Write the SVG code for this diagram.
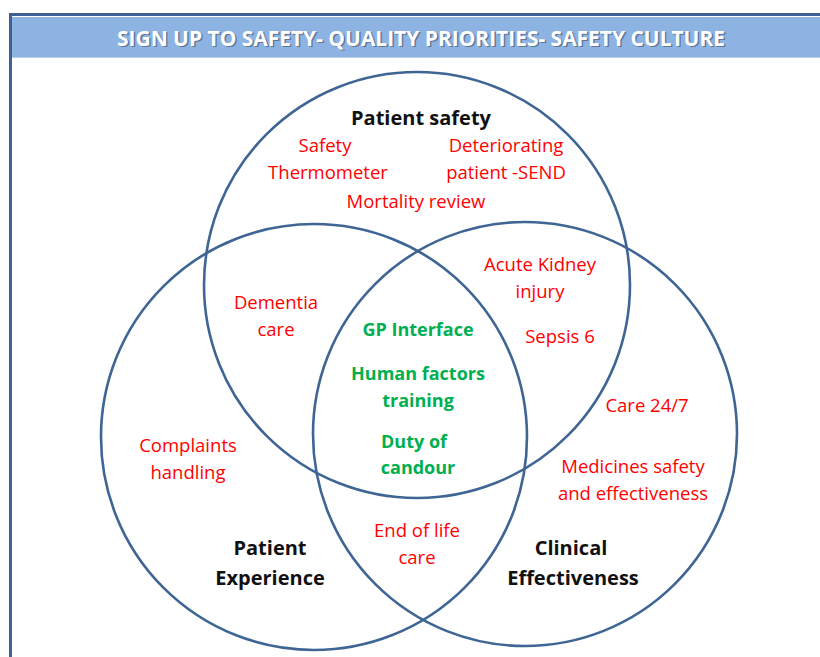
<svg xmlns="http://www.w3.org/2000/svg" width="820" height="657" viewBox="0 0 820 657">
  <style>
    .ring { fill: none; stroke: #3f6594; stroke-width: 2.6; }
    .red { fill: #ff0000; font-family: "Open Sans", "Liberation Sans", sans-serif; font-size: 18.5px; text-anchor: middle; }
    .green { fill: #00b050; font-family: "Open Sans", "Liberation Sans", sans-serif; font-size: 18px; font-weight: bold; text-anchor: middle; }
    .title { fill: #111111; font-family: "Open Sans", "Liberation Sans", sans-serif; font-size: 20px; font-weight: bold; text-anchor: middle; }
    .head { font-family: "Open Sans", "Liberation Sans", sans-serif; font-size: 21px; font-weight: bold; text-anchor: middle; }
  </style>

  <rect width="820" height="657" fill="#ffffff"/>

  <!-- frame and banner -->
  <g id="frame">
    <rect x="12" y="17" width="808" height="40" fill="#8db3e2"/>
    <line x1="12" y1="57.5" x2="820" y2="57.5" stroke="#b9d0ec" stroke-width="1"/>
    <line x1="9" y1="14.5" x2="820" y2="14.5" stroke="#3e6092" stroke-width="3"/>
    <line x1="10.5" y1="13" x2="10.5" y2="657" stroke="#3e6092" stroke-width="3"/>
    <text class="head" x="422.5" y="47" fill="#3a4658" opacity="0.55" textLength="608" lengthAdjust="spacingAndGlyphs">SIGN UP TO SAFETY- QUALITY PRIORITIES- SAFETY CULTURE</text>
    <text class="head" x="421" y="45.5" fill="#ffffff" textLength="608" lengthAdjust="spacingAndGlyphs">SIGN UP TO SAFETY- QUALITY PRIORITIES- SAFETY CULTURE</text>
  </g>

  <!-- the three overlapping sets -->
  <g id="rings">
    <circle id="ring-safety" class="ring" cx="417" cy="285" r="213"/>
    <circle id="ring-experience" class="ring" cx="314" cy="437" r="213"/>
    <circle id="ring-effectiveness" class="ring" cx="525" cy="434" r="212" stroke-width="3"/>
  </g>

  <g id="patient-safety">
    <text class="title" x="421" y="125">Patient safety</text>
    <text class="red" x="325" y="152">Safety</text>
    <text class="red" x="328" y="179">Thermometer</text>
    <text class="red" x="506" y="152">Deteriorating</text>
    <text class="red" x="506" y="179">patient -SEND</text>
    <text class="red" x="416" y="208">Mortality review</text>
  </g>

  <g id="safety-effectiveness">
    <text class="red" x="540" y="271">Acute Kidney</text>
    <text class="red" x="540" y="298">injury</text>
    <text class="red" x="560" y="343">Sepsis 6</text>
  </g>

  <g id="safety-experience">
    <text class="red" x="276" y="309">Dementia</text>
    <text class="red" x="276" y="336">care</text>
  </g>

  <g id="core">
    <text class="green" x="418" y="336">GP Interface</text>
    <text class="green" x="418" y="380">Human factors</text>
    <text class="green" x="418" y="407">training</text>
    <text class="green" x="414" y="448">Duty of</text>
    <text class="green" x="418" y="474">candour</text>
  </g>

  <g id="clinical-effectiveness">
    <text class="red" x="647" y="412">Care 24/7</text>
    <text class="red" x="633" y="473">Medicines safety</text>
    <text class="red" x="633" y="500">and effectiveness</text>
    <text class="title" x="571" y="555">Clinical</text>
    <text class="title" x="573" y="585">Effectiveness</text>
  </g>

  <g id="patient-experience">
    <text class="red" x="188" y="452">Complaints</text>
    <text class="red" x="188" y="479">handling</text>
    <text class="title" x="270" y="555">Patient</text>
    <text class="title" x="270" y="585">Experience</text>
  </g>

  <g id="experience-effectiveness">
    <text class="red" x="417" y="537">End of life</text>
    <text class="red" x="417" y="564">care</text>
  </g>
</svg>
